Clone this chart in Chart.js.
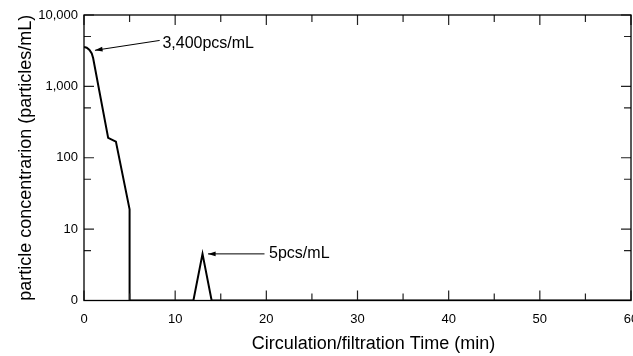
<!DOCTYPE html>
<html>
<head>
<meta charset="utf-8">
<script src="https://cdn.jsdelivr.net/npm/chart.js@4/dist/chart.umd.min.js"></script>
<style>
  html, body { margin: 0; padding: 0; background: #fff; }
  #wrap { width: 633px; height: 356px; }
</style>
</head>
<body>
<div id="wrap"><canvas id="chart"></canvas></div>
<script>
// time (min) vs particle count; "0" on the log axis sits at 1
var times  = [0, 0.3, 0.6, 0.85, 1.0, 2.65, 3.5, 5.0, 5.0, 12, 13, 14, 60];
var counts = [3560, 3480, 3250, 2900, 2500, 190, 168, 19, 1, 1, 4.5, 1, 1];

var yTicks  = [1, 5, 10, 50, 100, 500, 1000, 5000, 10000];
var yLabels = {1: '0', 10: '10', 100: '100', 1000: '1,000', 10000: '10,000'};
var xTicks  = [0, 5, 10, 15, 20, 25, 30, 35, 40, 45, 50, 55, 60];

var notes = [
  {text: '3,400pcs/mL', tip: [1.2, 3200], tail: [8.3, 4400], label: [8.6, 3950]},
  {text: '5pcs/mL',     tip: [13.6, 4.5], tail: [19.8, 4.5], label: [20.3, 4.5]}
];

var points = times.map(function (t, i) { return {x: t, y: counts[i]}; });

var frame = {
  id: 'frame',
  afterDraw: function (chart) {
    var ctx = chart.ctx, a = chart.chartArea;
    var xs = chart.scales.x, ys = chart.scales.y;
    ctx.save();
    // inward ticks on all four sides
    ctx.strokeStyle = '#222';
    ctx.lineWidth = 1.2;
    xTicks.forEach(function (v) {
      var px = xs.getPixelForValue(v), len = v % 10 === 0 ? 10 : 7;
      ctx.beginPath();
      ctx.moveTo(px, a.bottom); ctx.lineTo(px, a.bottom - len);
      ctx.moveTo(px, a.top); ctx.lineTo(px, a.top + len);
      ctx.stroke();
    });
    yTicks.forEach(function (v) {
      var py = ys.getPixelForValue(v), len = yLabels[v] ? 10 : 7;
      ctx.beginPath();
      ctx.moveTo(a.left, py); ctx.lineTo(a.left + len, py);
      ctx.moveTo(a.right, py); ctx.lineTo(a.right - len, py);
      ctx.stroke();
    });
    ctx.strokeStyle = '#000';
    ctx.lineWidth = 1.3;
    ctx.strokeRect(a.left, a.top, a.right - a.left, a.bottom - a.top);

    // arrows + notes
    ctx.fillStyle = '#000';
    ctx.lineWidth = 1;
    notes.forEach(function (n) {
      var tx = xs.getPixelForValue(n.tip[0]), ty = ys.getPixelForValue(n.tip[1]);
      var sx = xs.getPixelForValue(n.tail[0]), sy = ys.getPixelForValue(n.tail[1]);
      var ang = Math.atan2(ty - sy, tx - sx);
      ctx.beginPath();
      ctx.moveTo(sx, sy); ctx.lineTo(tx, ty);
      ctx.stroke();
      ctx.beginPath();
      ctx.moveTo(tx, ty);
      ctx.lineTo(tx - 8 * Math.cos(ang - 0.3), ty - 8 * Math.sin(ang - 0.3));
      ctx.lineTo(tx - 8 * Math.cos(ang + 0.3), ty - 8 * Math.sin(ang + 0.3));
      ctx.closePath();
      ctx.fill();
      ctx.font = '16px "Liberation Sans", Arial, sans-serif';
      ctx.textAlign = 'left';
      ctx.textBaseline = 'middle';
      ctx.fillText(n.text, xs.getPixelForValue(n.label[0]), ys.getPixelForValue(n.label[1]));
    });

    // x axis title (sits a little right of centre in the original)
    ctx.font = '18px "Liberation Sans", Arial, sans-serif';
    ctx.textAlign = 'center';
    ctx.textBaseline = 'middle';
    ctx.fillText('Circulation/filtration Time (min)', (a.left + a.right) / 2 + 16, 344);
    ctx.restore();
  }
};

new Chart(document.getElementById('chart'), {
  type: 'line',
  data: {
    datasets: [{
      data: points,
      borderColor: '#000',
      borderWidth: 2,
      pointRadius: 0,
      tension: 0,
      fill: false
    }]
  },
  options: {
    responsive: true, maintainAspectRatio: false, animation: false,
    layout: {padding: {top: 15, right: 2, left: 0, bottom: 0}},
    plugins: {legend: {display: false}, tooltip: {enabled: false}},
    scales: {
      x: {
        type: 'linear', min: 0, max: 60,
        grid: {display: false, drawTicks: false},
        border: {display: false},
        afterBuildTicks: function (s) { s.ticks = xTicks.map(function (v) { return {value: v}; }); },
        ticks: {
          padding: 11, color: '#000', maxRotation: 0, autoSkip: false,
          font: {size: 13, family: '"Liberation Sans", Arial, sans-serif'},
          callback: function (v) { return v % 10 === 0 ? String(v) : ''; }
        },
        afterFit: function (s) { s.height = 55.5; s.paddingRight = 0; s.paddingLeft = 0; }
      },
      y: {
        type: 'logarithmic', min: 1, max: 10000,
        grid: {display: false, drawTicks: false},
        border: {display: false},
        afterBuildTicks: function (s) { s.ticks = yTicks.map(function (v) { return {value: v}; }); },
        ticks: {
          padding: 6, color: '#000', autoSkip: false,
          font: {size: 13, family: '"Liberation Sans", Arial, sans-serif'},
          callback: function (v) { return yLabels[v] || ''; }
        },
        title: {
          display: true, text: 'particle concentrarion (particles/mL)', color: '#000',
          font: {size: 18, family: '"Liberation Sans", Arial, sans-serif'},
          padding: {top: 15, bottom: 0}
        },
        afterFit: function (s) { s.width = 84; s.paddingTop = 0; s.paddingBottom = 0; }
      }
    }
  },
  plugins: [frame]
});
</script>
</body>
</html>
